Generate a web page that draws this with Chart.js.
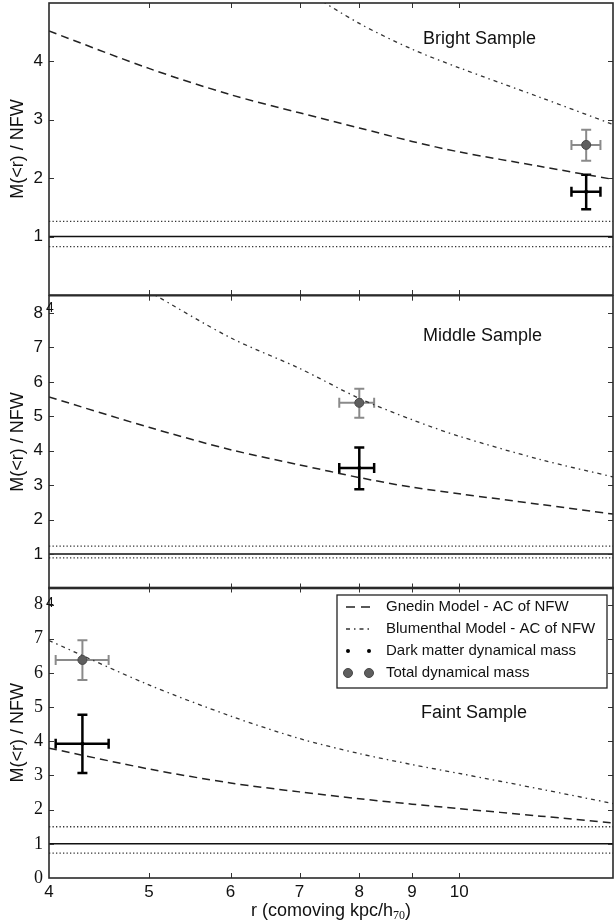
<!DOCTYPE html>
<html>
<head>
<meta charset="utf-8">
<title>M(&lt;r) / NFW - Bright, Middle, Faint samples</title>
<script src="https://cdn.jsdelivr.net/npm/chart.js@4.4.1/dist/chart.umd.min.js"></script>
<style>
  body { margin: 0; background: #fff; }
  #wrap { position: relative; width: 614px; height: 921px; overflow: hidden; }
  #wrap canvas { position: absolute; left: 0; }
</style>
</head>
<body>
<div id="wrap">
  <canvas id="bright" width="614" height="300" style="top:0px"></canvas>
  <canvas id="middle" width="614" height="300" style="top:290px"></canvas>
  <canvas id="faint" width="614" height="341" style="top:580px"></canvas>
</div>
<script>
// ---- data ----
const xModel = [4, 5, 6, 7, 8, 9, 10, 12, 14.1];
const xTicks = [4, 5, 6, 7, 8, 9, 10];
const xMin = 4, xMax = 14.1;

const sampleNames = ['Bright Sample', 'Middle Sample', 'Faint Sample'];

// Gnedin model - AC of NFW
const gnedinBright = [4.52, 3.88, 3.43, 3.12, 2.86, 2.63, 2.45, 2.20, 1.98];
const gnedinMiddle = [5.56, 4.68, 4.03, 3.59, 3.22, 2.94, 2.75, 2.44, 2.16];
const gnedinFaint  = [3.80, 3.19, 2.78, 2.52, 2.32, 2.16, 2.03, 1.81, 1.61];

// Blumenthal model - AC of NFW
const blumBright = [null, null, null, 5.27, 4.65, 4.21, 3.89, 3.38, 2.92];
const blumMiddle = [null, 8.62, 7.28, 6.39, 5.52, 4.90, 4.42, 3.74, 3.24];
const blumFaint  = [6.95, 5.65, 4.74, 4.08, 3.64, 3.32, 3.06, 2.60, 2.18];

// NFW level and the dotted band around it
const nfwLevel = 1;
const bandHi = [1.26, 1.23, 1.50];
const bandLo = [0.83, 0.89, 0.73];

// measured points (bright, middle, faint)
const pointR   = [13.28, 8.0, 4.31];
const pointRLo = [12.85, 7.65, 4.06];
const pointRHi = [13.71, 8.27, 4.57];
const totalMass = [2.57, 5.39, 6.38];
const totalLo   = [2.30, 4.96, 5.79];
const totalHi   = [2.83, 5.80, 6.96];
const dmMass = [1.77, 3.50, 3.93];
const dmLo   = [1.47, 2.88, 3.07];
const dmHi   = [2.06, 4.09, 4.78];

const yMaxes = [5, 8.5, 8.5];
const yTickSets = [[1, 2, 3, 4], [1, 2, 3, 4, 5, 6, 7, 8], [0, 1, 2, 3, 4, 5, 6, 7, 8]];

// ---- styles ----
const SANS = "'Liberation Sans', Arial, Helvetica, sans-serif";
const SERIF = "'Liberation Serif', 'Times New Roman', serif";
Chart.defaults.font.family = SANS;
Chart.defaults.color = '#111';

const gnedinStyle = { color: '#222', width: 1.5, dash: [8, 5] };
const blumStyle = { color: '#333', width: 1.3, dash: [4, 4, 1.5, 4] };
const totalStyle = { fill: '#5e5e5e', edge: '#474747', bar: '#8a8a8a', r: 4.5 };
const dmStyle = { fill: '#000', bar: '#000', r: 2 };

const panels = [
  { id: 'bright', top: 0,   pad: { top: 3, right: 1, bottom: 5, left: 0 },   showX: false,
    gnedin: gnedinBright, blum: blumBright, label: [423, 39], ghost: null, serif: false },
  { id: 'middle', top: 290, pad: { top: 5.7, right: 1, bottom: 1.5, left: 0 }, showX: false,
    gnedin: gnedinMiddle, blum: blumMiddle, label: [423, 336], ghost: [50, 308], serif: false },
  { id: 'faint',  top: 580, pad: { top: 7.5, right: 1, bottom: 0, left: 0 },   showX: true,
    gnedin: gnedinFaint, blum: blumFaint, label: [421, 713], ghost: [50, 603], serif: true }
];

function series(ys) {
  return xModel.map((x, i) => ({ x: x, y: ys[i] })).filter(p => p.y !== null);
}

function hline(y) {
  return [{ x: xMin, y: y }, { x: xMax, y: y }];
}

function errorBar(ctx, xs, ys, px, py, x0, x1, y0, y1, color, width) {
  const cap = 5;
  ctx.save();
  ctx.strokeStyle = color;
  ctx.lineWidth = width;
  ctx.beginPath();
  const cx = xs.getPixelForValue(px), cy = ys.getPixelForValue(py);
  const l = xs.getPixelForValue(x0), r = xs.getPixelForValue(x1);
  const t = ys.getPixelForValue(y1), b = ys.getPixelForValue(y0);
  ctx.moveTo(l, cy); ctx.lineTo(r, cy);
  ctx.moveTo(cx, t); ctx.lineTo(cx, b);
  ctx.moveTo(l, cy - cap); ctx.lineTo(l, cy + cap);
  ctx.moveTo(r, cy - cap); ctx.lineTo(r, cy + cap);
  ctx.moveTo(cx - cap, t); ctx.lineTo(cx + cap, t);
  ctx.moveTo(cx - cap, b); ctx.lineTo(cx + cap, b);
  ctx.stroke();
  ctx.restore();
}

function drawLegend(ctx, top) {
  const bx = 337, by = 595 - top, bw = 270, bh = 93;
  ctx.save();
  ctx.fillStyle = '#fff';
  ctx.fillRect(bx, by, bw, bh);
  ctx.strokeStyle = '#222';
  ctx.lineWidth = 1.3;
  ctx.strokeRect(bx, by, bw, bh);
  const rows = [by + 12, by + 34, by + 56, by + 78];
  const names = ['Gnedin Model - AC of NFW', 'Blumenthal Model - AC of NFW',
                 'Dark matter dynamical mass', 'Total dynamical mass'];
  // line samples
  [gnedinStyle, blumStyle].forEach((s, i) => {
    ctx.beginPath();
    ctx.strokeStyle = s.color;
    ctx.lineWidth = s.width;
    ctx.setLineDash(i === 0 ? [9, 6] : s.dash);
    ctx.moveTo(346, rows[i]); ctx.lineTo(372, rows[i]);
    ctx.stroke();
  });
  ctx.setLineDash([]);
  [348, 369].forEach(x => {
    ctx.beginPath();
    ctx.fillStyle = dmStyle.fill;
    ctx.arc(x, rows[2], dmStyle.r, 0, Math.PI * 2);
    ctx.fill();
    ctx.beginPath();
    ctx.fillStyle = totalStyle.fill;
    ctx.strokeStyle = totalStyle.edge;
    ctx.lineWidth = 1;
    ctx.arc(x, rows[3], totalStyle.r, 0, Math.PI * 2);
    ctx.fill();
    ctx.stroke();
  });
  ctx.fillStyle = '#111';
  ctx.font = '15px ' + SANS;
  ctx.textAlign = 'left';
  ctx.textBaseline = 'middle';
  names.forEach((n, i) => ctx.fillText(n, 386, rows[i]));
  ctx.restore();
}

function drawXTitle(ctx, top) {
  const main = 'r (comoving kpc/h', sub = '70', close = ')';
  ctx.save();
  ctx.fillStyle = '#111';
  ctx.textBaseline = 'alphabetic';
  ctx.textAlign = 'left';
  const mainFont = '18px ' + SANS, subFont = '12px ' + SERIF;
  ctx.font = mainFont;
  const w1 = ctx.measureText(main).width, w3 = ctx.measureText(close).width;
  ctx.font = subFont;
  const w2 = ctx.measureText(sub).width;
  let x = 331 - (w1 + w2 + w3) / 2;
  const base = 916 - top;
  ctx.font = mainFont; ctx.fillText(main, x, base); x += w1;
  ctx.font = subFont; ctx.fillText(sub, x, base + 3); x += w2;
  ctx.font = mainFont; ctx.fillText(close, x, base);
  ctx.restore();
}

panels.forEach((p, k) => {
  const yTicks = yTickSets[k];
  const yMax = yMaxes[k];

  const panelPlugin = {
    id: 'panel' + k,
    beforeDatasetsDraw(chart) {
      const ctx = chart.ctx, xs = chart.scales.x, ys = chart.scales.y;
      const a = chart.chartArea;
      ctx.save();
      ctx.beginPath();
      ctx.rect(a.left, a.top, a.right - a.left, a.bottom - a.top);
      ctx.clip();
      errorBar(ctx, xs, ys, pointR[k], totalMass[k], pointRLo[k], pointRHi[k], totalLo[k], totalHi[k], totalStyle.bar, 2);
      errorBar(ctx, xs, ys, pointR[k], dmMass[k], pointRLo[k], pointRHi[k], dmLo[k], dmHi[k], dmStyle.bar, 2.5);
      ctx.restore();
    },
    afterDraw(chart) {
      const ctx = chart.ctx, xs = chart.scales.x, ys = chart.scales.y;
      const a = chart.chartArea;
      ctx.save();
      // tick marks, pointing inward
      ctx.strokeStyle = '#333';
      ctx.lineWidth = 1;
      ctx.beginPath();
      xTicks.forEach(v => {
        if (v <= xMin || v >= xMax) return;
        const x = Math.round(xs.getPixelForValue(v)) + 0.5;
        ctx.moveTo(x, a.top); ctx.lineTo(x, a.top + 5);
        ctx.moveTo(x, a.bottom); ctx.lineTo(x, a.bottom - 5);
      });
      yTicks.forEach(v => {
        if (v <= 0 || v >= yMax) return;
        const y = Math.round(ys.getPixelForValue(v)) + 0.5;
        ctx.moveTo(a.left, y); ctx.lineTo(a.left + 5, y);
        ctx.moveTo(a.right, y); ctx.lineTo(a.right - 5, y);
      });
      ctx.stroke();
      // frame
      ctx.strokeStyle = '#2a2a2a';
      ctx.lineWidth = 1.6;
      ctx.strokeRect(a.left, a.top, a.right - a.left, a.bottom - a.top);
      // sample name
      ctx.fillStyle = '#111';
      ctx.font = '18px ' + SANS;
      ctx.textAlign = 'left';
      ctx.textBaseline = 'middle';
      ctx.fillText(sampleNames[k], p.label[0], p.label[1] - p.top);
      // tick label of the panel above peeking through
      if (p.ghost) {
        ctx.font = '14px ' + SANS;
        ctx.textAlign = 'center';
        ctx.fillText('4', p.ghost[0], p.ghost[1] - p.top);
      }
      ctx.restore();
      if (p.showX) {
        drawLegend(ctx, p.top);
        drawXTitle(ctx, p.top);
      }
    }
  };

  new Chart(document.getElementById(p.id), {
    type: 'scatter',
    data: {
      datasets: [
        { label: 'Total dynamical mass', data: [{ x: pointR[k], y: totalMass[k] }],
          pointRadius: totalStyle.r, backgroundColor: totalStyle.fill, borderColor: totalStyle.edge, borderWidth: 1 },
        { label: 'Dark matter dynamical mass', data: [{ x: pointR[k], y: dmMass[k] }],
          pointRadius: dmStyle.r, backgroundColor: dmStyle.fill, borderColor: dmStyle.fill, borderWidth: 0 },
        { label: 'Gnedin Model - AC of NFW', data: series(p.gnedin), showLine: true, pointRadius: 0,
          borderColor: gnedinStyle.color, borderWidth: gnedinStyle.width, borderDash: gnedinStyle.dash,
          tension: 0.3, fill: false },
        { label: 'Blumenthal Model - AC of NFW', data: series(p.blum), showLine: true, pointRadius: 0,
          borderColor: blumStyle.color, borderWidth: blumStyle.width, borderDash: blumStyle.dash,
          tension: 0.3, fill: false },
        { label: 'NFW', data: hline(nfwLevel), showLine: true, pointRadius: 0,
          borderColor: '#111', borderWidth: 1.5 },
        { label: 'upper', data: hline(bandHi[k]), showLine: true, pointRadius: 0,
          borderColor: '#333', borderWidth: 1.3, borderDash: [1.3, 2.2] },
        { label: 'lower', data: hline(bandLo[k]), showLine: true, pointRadius: 0,
          borderColor: '#333', borderWidth: 1.3, borderDash: [1.3, 2.2] }
      ]
    },
    options: {
      responsive: false,
      animation: false,
      devicePixelRatio: 1,
      layout: { padding: p.pad, autoPadding: false },
      plugins: { legend: { display: false }, tooltip: { enabled: false } },
      scales: {
        x: {
          type: 'logarithmic',
          min: xMin, max: xMax,
          display: p.showX,
          grid: { display: false, drawTicks: false },
          border: { display: false },
          afterBuildTicks: s => { s.ticks = xTicks.map(v => ({ value: v })); },
          afterFit: s => {
            s.height = p.showX ? 43 : 0;
            s.paddingLeft = 0; s.paddingRight = 0;
          },
          ticks: {
            autoSkip: false, maxRotation: 0, padding: 4, color: '#111',
            font: { size: 17, family: SANS },
            callback: v => String(v)
          }
        },
        y: {
          min: 0, max: yMax,
          grid: { display: false, drawTicks: false },
          border: { display: false },
          afterBuildTicks: s => { s.ticks = yTicks.map(v => ({ value: v })); },
          afterFit: s => {
            s.width = 49;
            s.paddingTop = 0; s.paddingBottom = 0;
          },
          ticks: {
            autoSkip: false, padding: 6, color: '#111',
            font: { size: p.serif ? 18 : 17, family: p.serif ? SERIF : SANS },
            callback: v => String(v)
          },
          title: {
            display: true, text: 'M(<r) / NFW', color: '#111',
            font: { size: 18, family: SANS },
            padding: { top: 7, bottom: 0 }
          }
        }
      }
    },
    plugins: [panelPlugin]
  });
});
</script>
</body>
</html>
